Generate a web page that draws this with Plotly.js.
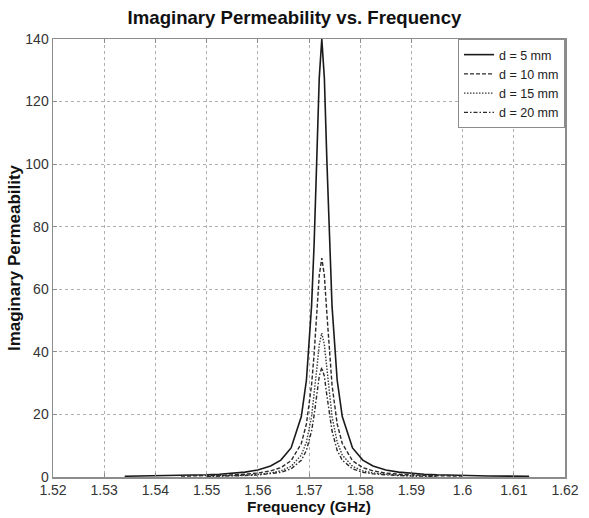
<!DOCTYPE html>
<html>
<head>
<meta charset="utf-8">
<script src="https://cdn.plot.ly/plotly-3.0.1.min.js"></script>
<style>html,body{margin:0;padding:0;background:#fff;}#chart{width:589px;height:518px;}</style>
</head>
<body>
<div id="chart"></div>
<script>
// Frequencies (GHz)
const freqD5 = [1.534, 1.540, 1.545, 1.5475, 1.550, 1.5525, 1.555, 1.5575, 1.560, 1.5625, 1.5645, 1.5665, 1.5685, 1.5695, 1.5705, 1.571, 1.5715, 1.572, 1.5725, 1.573, 1.5735, 1.574, 1.5745, 1.5755, 1.5765, 1.5785, 1.5805, 1.5825, 1.585, 1.5875, 1.590, 1.5925, 1.595, 1.600, 1.605, 1.613];
const mu5 = [0.24, 0.34, 0.47, 0.57, 0.70, 0.89, 1.16, 1.57, 2.26, 3.5, 5.4, 9.3, 19.3, 31.0, 54.6, 74.5, 100.7, 127.5, 140, 127.5, 100.7, 74.5, 54.6, 31.0, 19.3, 9.3, 5.4, 3.5, 2.26, 1.57, 1.16, 0.89, 0.70, 0.47, 0.34, 0.22];

const freqD10 = [1.545, 1.5475, 1.550, 1.5525, 1.555, 1.5575, 1.560, 1.5625, 1.5645, 1.5665, 1.5685, 1.5695, 1.5705, 1.571, 1.5715, 1.572, 1.5725, 1.573, 1.5735, 1.574, 1.5745, 1.5755, 1.5765, 1.5785, 1.5805, 1.5825, 1.585, 1.5875, 1.590, 1.5925, 1.595, 1.600];
const mu10 = [0.27, 0.32, 0.40, 0.50, 0.65, 0.89, 1.27, 1.97, 3.0, 5.2, 10.7, 17.0, 29.4, 39.3, 52.0, 64.4, 70, 64.4, 52.0, 39.3, 29.4, 17.0, 10.7, 5.2, 3.0, 1.97, 1.27, 0.89, 0.65, 0.50, 0.40, 0.27];

const freqD15 = [1.550, 1.5525, 1.555, 1.5575, 1.560, 1.5625, 1.5645, 1.5665, 1.5685, 1.5695, 1.5705, 1.571, 1.5715, 1.572, 1.5725, 1.573, 1.5735, 1.574, 1.5745, 1.5755, 1.5765, 1.5785, 1.5805, 1.5825, 1.585, 1.5875, 1.590, 1.5925, 1.595];
const mu15 = [0.26, 0.33, 0.43, 0.58, 0.83, 1.29, 1.97, 3.4, 7.0, 11.2, 19.3, 25.8, 34.2, 42.3, 46, 42.3, 34.2, 25.8, 19.3, 11.2, 7.0, 3.4, 1.97, 1.29, 0.83, 0.58, 0.43, 0.33, 0.26];

const freqD20 = freqD15;
const mu20 = [0.20, 0.25, 0.33, 0.45, 0.64, 0.99, 1.5, 2.6, 5.35, 8.5, 14.7, 19.7, 26.0, 32.2, 35, 32.2, 26.0, 19.7, 14.7, 8.5, 5.35, 2.6, 1.5, 0.99, 0.64, 0.45, 0.33, 0.25, 0.20];

const seriesNames = ["d = 5 mm", "d = 10 mm", "d = 15 mm", "d = 20 mm"];
const xTickVals = [1.52, 1.53, 1.54, 1.55, 1.56, 1.57, 1.58, 1.59, 1.60, 1.61, 1.62];
const xTickText = ["1.52", "1.53", "1.54", "1.55", "1.56", "1.57", "1.58", "1.59", "1.6", "1.61", "1.62"];
const yTickVals = [0, 20, 40, 60, 80, 100, 120, 140];

const font = "Liberation Sans, Arial, sans-serif";
const traces = [
  {x: freqD5, y: mu5, name: seriesNames[0], mode: "lines", line: {color: "#1a1a1a", width: 1.6, dash: "solid"}},
  {x: freqD10, y: mu10, name: seriesNames[1], mode: "lines", line: {color: "#2a2a2a", width: 1.4, dash: "4px,2px"}},
  {x: freqD15, y: mu15, name: seriesNames[2], mode: "lines", line: {color: "#3a3a3a", width: 1.4, dash: "1.5px,1.5px"}},
  {x: freqD20, y: mu20, name: seriesNames[3], mode: "lines", line: {color: "#2a2a2a", width: 1.4, dash: "4px,2px,1.5px,2px"}}
];

const axisCommon = {
  showline: true, mirror: "ticks", linecolor: "#8c8c8c", linewidth: 1.5,
  ticks: "inside", ticklen: 4, tickcolor: "#8c8c8c",
  showgrid: true, gridcolor: "#b0b0b0", griddash: "dot", gridwidth: 1,
  zeroline: false,
  tickfont: {family: font, size: 14, color: "#333"},
  automargin: false
};

const layout = {
  width: 589, height: 518,
  margin: {l: 53, r: 24, t: 39, b: 41},
  paper_bgcolor: "#fff", plot_bgcolor: "#fff",
  showlegend: true,
  title: {text: "<b>Imaginary Permeability vs. Frequency</b>", font: {family: font, size: 18.6, color: "#111"}, xref: "container", x: 0.5, xanchor: "center", y: 0.967, yanchor: "middle"},
  xaxis: Object.assign({}, axisCommon, {
    range: [1.52, 1.62], tickvals: xTickVals, ticktext: xTickText,
    title: {text: "<b>Frequency (GHz)</b>", font: {family: font, size: 15.5, color: "#111"}, standoff: 0}
  }),
  yaxis: Object.assign({}, axisCommon, {
    range: [0, 140], tickvals: yTickVals,
    title: {text: "<b>Imaginary Permeability</b>", font: {family: font, size: 17, color: "#111"}, standoff: 0}
  }),
  legend: {
    x: 1, xanchor: "right", y: 1, yanchor: "top",
    xref: "paper", yref: "paper",
    bgcolor: "#fff", bordercolor: "#8c8c8c", borderwidth: 1,
    font: {family: font, size: 12.5, color: "#222"},
    tracegroupgap: 0, itemwidth: 30
  }
};

Plotly.newPlot("chart", traces, layout, {staticPlot: true, displayModeBar: false});
</script>
</body>
</html>
